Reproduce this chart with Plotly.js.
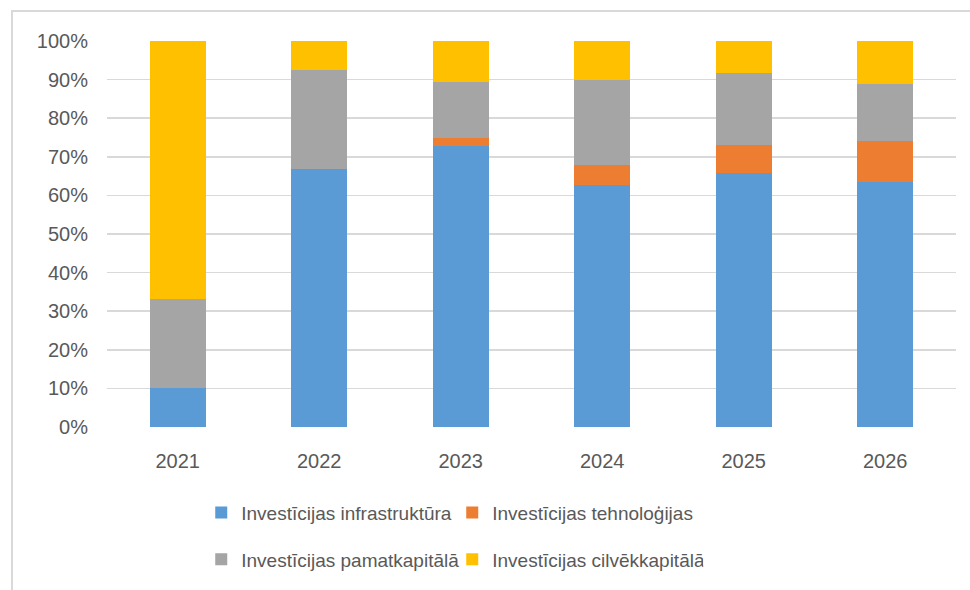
<!DOCTYPE html>
<html>
<head>
<meta charset="utf-8">
<script src="https://cdn.plot.ly/plotly-3.0.1.min.js"></script>
<style>
  html, body { margin: 0; padding: 0; background: #fff; }
  #wrap { position: relative; width: 970px; height: 590px; }
  #chart { width: 970px; height: 590px; }
  #frame { position: absolute; left: 11px; top: 10px; width: 970px; height: 600px;
           border-left: 2px solid #D9D9D9; border-top: 2px solid #D9D9D9; pointer-events: none; }
</style>
</head>
<body>
<div id="wrap">
  <div id="chart"></div>
  <div id="frame"></div>
</div>
<script>
const years = ['2021', '2022', '2023', '2024', '2025', '2026'];
const infrastruktura = [0.100, 0.669, 0.729, 0.628, 0.658, 0.634];
const tehnologijas   = [0.000, 0.000, 0.020, 0.050, 0.073, 0.108];
const pamatkapitala  = [0.232, 0.256, 0.146, 0.220, 0.185, 0.147];
const cilvekkapitala = [0.668, 0.075, 0.105, 0.102, 0.084, 0.111];
const seriesNames = ['Investīcijas infrastruktūra', 'Investīcijas tehnoloģijas',
                     'Investīcijas pamatkapitālā', 'Investīcijas cilvēkkapitālā'];
const tickVals = [0, 0.1, 0.2, 0.3, 0.4, 0.5, 0.6, 0.7, 0.8, 0.9, 1.0];
const tickText = ['0%', '10%', '20%', '30%', '40%', '50%', '60%', '70%', '80%', '90%', '100%'];

const colors = ['#5B9BD5', '#ED7D31', '#A5A5A5', '#FFC000'];
const values = [infrastruktura, tehnologijas, pamatkapitala, cilvekkapitala];
const legendsFor = ['legend', 'legend', 'legend2', 'legend2'];

const traces = values.map((v, i) => ({
  type: 'bar',
  x: years,
  y: v,
  name: seriesNames[i],
  marker: { color: colors[i], line: { width: 0 } },
  legend: legendsFor[i],
  hoverinfo: 'x+y+name'
}));

const font = { family: 'Liberation Sans, Arial, sans-serif', color: '#595959' };
const legendCommon = {
  orientation: 'h',
  xanchor: 'left',
  yanchor: 'middle',
  x: 0.111,
  font: Object.assign({ size: 19 }, font),
  bgcolor: 'rgba(0,0,0,0)',
  entrywidth: 206,
  entrywidthmode: 'pixels',
  traceorder: 'normal'
};

const layout = {
  width: 970,
  height: 590,
  margin: { l: 107, r: 14, t: 41, b: 161 },
  paper_bgcolor: '#fff',
  plot_bgcolor: '#fff',
  barmode: 'stack',
  bargap: 0.605,
  font: Object.assign({ size: 19 }, font),
  xaxis: {
    type: 'category',
    showgrid: false,
    zeroline: false,
    showline: false,
    ticks: '',
    tickfont: Object.assign({ size: 20 }, font),
    ticklabelstandoff: 20
  },
  yaxis: {
    range: [0, 1],
    tickvals: tickVals,
    ticktext: tickText,
    showgrid: true,
    gridcolor: '#D9D9D9',
    gridwidth: 1.5,
    zeroline: false,
    showline: false,
    ticks: '',
    tickfont: Object.assign({ size: 20 }, font),
    ticklabelstandoff: 18
  },
  legend: Object.assign({ y: -0.2216 }, legendCommon),
  legend2: Object.assign({ y: -0.343 }, legendCommon),
  showlegend: true
};

Plotly.newPlot('chart', traces, layout, { displayModeBar: false, staticPlot: true });
</script>
</body>
</html>
